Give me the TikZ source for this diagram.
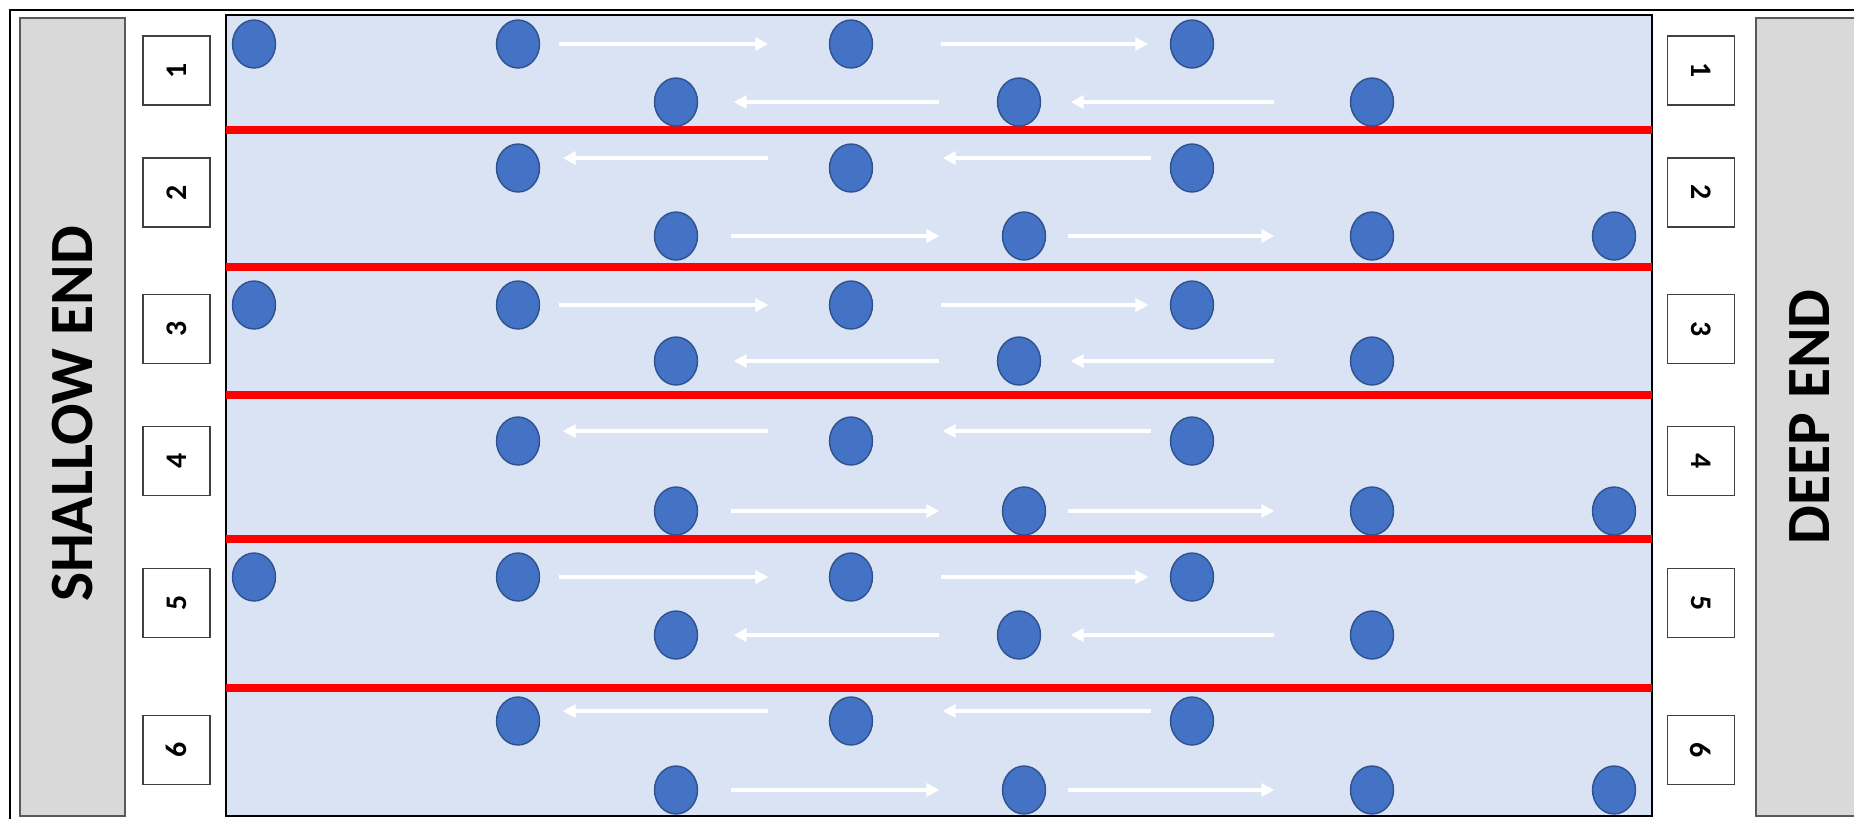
\documentclass[tikz,border=0pt]{standalone}
\usepackage{fontspec}
\setmainfont{Carlito}
\usetikzlibrary{shapes.geometric, arrows.meta}
\definecolor{poolblue}{HTML}{DAE3F3}
\definecolor{swimblue}{HTML}{4472C4}
\definecolor{swimedge}{HTML}{2F528F}
\definecolor{endgray}{HTML}{D9D9D9}
\tikzset{
	endtext/.style={font=\fontsize{17.5}{20}\selectfont\bfseries}
}

\begin{document}
\begin{tikzpicture}[x=0.1mm,y=-0.1mm]

\tikzset{
    swimmer/.style={
        shape=ellipse,
        draw=swimedge,
        fill=swimblue,
        line width=0.4pt,
        minimum width=4.3mm,
        minimum height=4.8mm,
        inner sep=0pt
    },
    lanebox/.style={
        shape=rectangle,
        draw=black!75,
        fill=white,
        line width=0.45pt,
        minimum width=6.9mm,
        minimum height=6.7mm,
        inner sep=0pt,
        font=\fontsize{8.5}{10}\selectfont\bfseries
    },
    lanearrow/.style={draw=white, line width=1.1pt, -{Triangle[length=1.3mm, width=1.3mm]}},
    rope/.style={draw=red, line width=2.5pt}
}

\useasboundingbox (0,0) rectangle (1854,818);
\clip (0,0) rectangle (1854,818);

\draw[line width=0.7pt] (10,830) -- (10,10) -- (1870,10);
\draw[draw=black!65, fill=endgray, line width=0.4pt] (20,18) rectangle (125,816);
\draw[draw=black!65, fill=endgray, line width=0.4pt] (1756,18) rectangle (1880,816);
\draw[fill=poolblue, line width=0.6pt] (226,15) rectangle (1652,816);

\foreach \y in {130,267,395,539,688}
    \draw[rope] (226,\y) -- (1652,\y);

\node[endtext, rotate=90] (shallow) at (73,414) {SHALLOW END};
\node[endtext, rotate=90] (deep) at (1810,417) {DEEP END};

\foreach \n/\y in {1/70.5,2/192.5,3/329,4/461,5/603,6/750} {
    \node[lanebox, rotate=90] (left\n) at (176.5,\y) {\n};
    \node[lanebox, rotate=-90] (right\n) at (1701,\y) {\n};
}

% lanes 1, 3, 5
\foreach \lane/\ty/\by in {1/44/102,3/305/361,5/577/635} {
    \node[swimmer] (c\lane-a) at (254,\ty) {};
    \node[swimmer] (c\lane-b) at (518,\ty) {};
    \node[swimmer] (c\lane-d) at (851,\ty) {};
    \node[swimmer] (c\lane-f) at (1192,\ty) {};
    \node[swimmer] (c\lane-c) at (676,\by) {};
    \node[swimmer] (c\lane-e) at (1019,\by) {};
    \node[swimmer] (c\lane-g) at (1372,\by) {};
    \draw[lanearrow, shorten <=1.85mm, shorten >=6.05mm] (c\lane-b) -- (c\lane-d);
    \draw[lanearrow, shorten <=6.75mm, shorten >=2.15mm] (c\lane-d) -- (c\lane-f);
    \draw[lanearrow, shorten <=5.75mm, shorten >=3.55mm] (c\lane-e) -- (c\lane-c);
    \draw[lanearrow, shorten <=7.55mm, shorten >=2.95mm] (c\lane-g) -- (c\lane-e);
}

% lanes 2, 4, 6
\foreach \lane/\ty/\by in {2/168/236,4/441/511,6/721/790} {
    \node[swimmer] (c\lane-b) at (518,\ty) {};
    \node[swimmer] (c\lane-d) at (851,\ty) {};
    \node[swimmer] (c\lane-f) at (1192,\ty) {};
    \node[swimmer] (c\lane-c) at (676,\by) {};
    \node[swimmer] (c\lane-e) at (1024,\by) {};
    \node[swimmer] (c\lane-g) at (1372,\by) {};
    \node[swimmer] (c\lane-h) at (1614,\by) {};
    \draw[lanearrow, shorten <=6.05mm, shorten >=2.25mm] ([yshift=1mm]c\lane-d.west) -- ([yshift=1mm]c\lane-b.east);
    \draw[lanearrow, shorten <=1.85mm, shorten >=6.95mm] ([yshift=1mm]c\lane-f.west) -- ([yshift=1mm]c\lane-d.east);
    \draw[lanearrow, shorten <=3.25mm, shorten >=6.25mm] (c\lane-c) -- (c\lane-e);
    \draw[lanearrow, shorten <=2.15mm, shorten >=7.55mm] (c\lane-e) -- (c\lane-g);
}
\end{tikzpicture}
\end{document}
